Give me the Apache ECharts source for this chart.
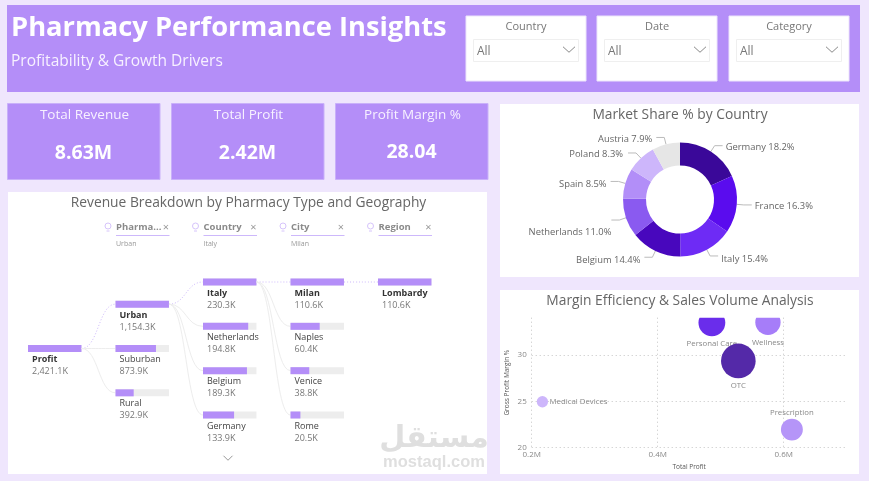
<!DOCTYPE html>
<html>
<head>
<meta charset="utf-8">
<title>Pharmacy Performance Insights</title>
<script src="https://cdn.jsdelivr.net/npm/echarts@6/dist/echarts.min.js"></script>
<style>
  html, body { margin: 0; padding: 0; background: #EFE6FD; }
  #miGrafico { width: 869px; height: 481px; }
</style>
</head>
<body>
<div id="miGrafico"></div>
<script>
// filters and KPI cards
var filterLabels = ['Country', 'Date', 'Category'];
var kpiLabels = ['Total Revenue', 'Total Profit', 'Profit Margin %'];
var kpiValues = ['8.63M', '2.42M', '28.04'];

// decomposition tree (values in K)
var rootNames = ['Profit'];
var rootValues = [2421.1];
var typeNames = ['Urban', 'Suburban', 'Rural'];
var typeValues = [1154.3, 873.9, 392.9];
var countryNames = ['Italy', 'Netherlands', 'Belgium', 'Germany'];
var countryValues = [230.3, 194.8, 189.3, 133.9];
var cityNames = ['Milan', 'Naples', 'Venice', 'Rome'];
var cityValues = [110.6, 60.4, 38.8, 20.5];
var regionNames = ['Lombardy'];
var regionValues = [110.6];
var treeHeaders = ['Pharma...', 'Country', 'City', 'Region'];
var treeSelected = ['Urban', 'Italy', 'Milan', ''];

// market share donut
var shareCountries = ['Germany', 'France', 'Italy', 'Belgium', 'Netherlands', 'Spain', 'Poland', 'Austria'];
var shareValues = [18.2, 16.3, 15.4, 14.4, 11.0, 8.5, 8.3, 7.9];

// bubble chart
var bubbleNames = ['Personal Care', 'Wellness', 'OTC', 'Medical Devices', 'Prescription'];
var bubbleProfit = [0.486, 0.575, 0.528, 0.217, 0.613];
var bubbleMargin = [33.45, 33.5, 29.35, 24.95, 21.95];
var bubbleSales = [1.8, 1.6, 3.0, 0.32, 1.2];

var PURPLE = '#B48EF8';
var shareColors = ['#3A0899', '#5A0CEE', '#6E2BF5', '#4807BD', '#8A5AF0', '#B28EF8', '#CDB6FB', '#E6E6E6'];
var shareLabelShift = [[-2, 2], [-2, 1], [-2, 3], [1, 3], [5, 12], [1, 3], [0, 1], [1, 2]];
var bubbleColors = ['#6A2DEB', '#A67DF9', '#5429A8', '#CDB6FB', '#B595F8'];
var bubbleLabelPos = ['bottom', 'bottom', 'bottom', 'right', 'top'];
var FONT = '"Open Sans", sans-serif';

// layout of the tree: half-row slot of each level, 0 is the top row
var treeLevels = [
  { names: rootNames, values: rootValues, slots: [3] },
  { names: typeNames, values: typeValues, slots: [1, 3, 5] },
  { names: countryNames, values: countryValues, slots: [0, 2, 4, 6] },
  { names: cityNames, values: cityValues, slots: [0, 2, 4, 6] },
  { names: regionNames, values: regionValues, slots: [0] }
];
var COL_W = 0.611; // bar width, in columns

var treeRows = [];
treeLevels.forEach(function (lvl, col) {
  var maxV = Math.max.apply(null, lvl.values);
  lvl.names.forEach(function (name, i) {
    treeRows.push({
      value: [col, lvl.slots[i], lvl.values[i] / maxV],
      name: name,
      label: lvl.values[i].toLocaleString('en-US', { minimumFractionDigits: 1 }) + 'K',
      first: i === 0,
      parentSlot: col > 0 ? treeLevels[col - 1].slots[0] : null
    });
  });
});

function renderTreeNode(params, api) {
  var row = treeRows[params.dataIndex];
  var col = api.value(0), slot = api.value(1), share = api.value(2);
  var p = api.coord([col, slot]);
  var w = api.size([COL_W, 0])[0];
  var h = 7;
  var kids = [];
  if (row.parentSlot !== null) {
    var from = api.coord([col - 1, row.parentSlot]);
    var x1 = from[0] + w, mid = (x1 + p[0]) / 2;
    kids.push({
      type: 'bezierCurve',
      shape: { x1: x1, y1: from[1], cpx1: mid, cpy1: from[1], cpx2: mid, cpy2: p[1], x2: p[0], y2: p[1] },
      style: row.first
        ? { stroke: '#CDB8FB', lineWidth: 1, lineDash: [1, 2], fill: null }
        : { stroke: '#EDEDED', lineWidth: 1, fill: null }
    });
  }
  kids.push({ type: 'rect', shape: { x: p[0], y: p[1] - h / 2, width: w, height: h }, style: { fill: '#EDEDED' } });
  kids.push({ type: 'rect', shape: { x: p[0], y: p[1] - h / 2, width: w * share, height: h }, style: { fill: PURPLE } });
  kids.push({
    type: 'text', x: p[0] + 4, y: p[1] + 11,
    style: { text: row.name, fill: row.first ? '#333' : '#444', font: (row.first ? 'bold ' : '') + '9px ' + FONT, verticalAlign: 'middle' }
  });
  kids.push({
    type: 'text', x: p[0] + 4, y: p[1] + 23,
    style: { text: row.label, fill: '#777', font: '9px ' + FONT, verticalAlign: 'middle' }
  });
  return { type: 'group', children: kids };
}

// bubbles are cut off at the plot area, as in the report
function bubbleRenderer(i) {
  return function (params, api) {
    var c = api.coord([api.value(0), api.value(1)]);
    var r = Math.sqrt(api.value(2)) * 10;
    var sys = params.coordSys;
    var pos = bubbleLabelPos[i];
    var tx = c[0], ty = c[1], align = 'center';
    if (pos === 'bottom') { ty = c[1] + r + 7.5; }
    if (pos === 'top') { ty = c[1] - r - 5.5; }
    if (pos === 'right') { tx = c[0] + r + 1.5; align = 'left'; }
    return {
      type: 'group',
      children: [
        {
          type: 'circle',
          shape: { cx: c[0], cy: c[1], r: r },
          style: { fill: bubbleColors[i] },
          clipPath: { type: 'rect', shape: { x: sys.x, y: sys.y, width: sys.width, height: sys.height } }
        },
        {
          type: 'text', x: tx, y: ty,
          style: { text: bubbleNames[i], fill: '#888', font: '7.8px ' + FONT, align: align, verticalAlign: 'middle' }
        }
      ]
    };
  };
}

// panels and static bits
var shapes = [];
function box(x, y, w, h, fill, stroke) {
  shapes.push({ type: 'rect', shape: { x: x, y: y, width: w, height: h }, style: { fill: fill, stroke: stroke || null, lineWidth: 1 } });
}
function label(x, y, text, font, fill, align) {
  shapes.push({ type: 'text', x: x, y: y, style: { text: text, font: font + ' ' + FONT, fill: fill, align: align || 'left', verticalAlign: 'middle' } });
}
function chevron(x, y, w, h, color) {
  shapes.push({ type: 'polyline', shape: { points: [[x - w / 2, y - h / 2], [x, y + h / 2], [x + w / 2, y - h / 2]] }, style: { stroke: color, fill: null, lineWidth: 1 } });
}

box(7, 5, 853, 87, PURPLE);
label(11, 28.5, 'Pharmacy Performance Insights', 'bold 27.3px', '#fff');
label(11, 61.5, 'Profitability & Growth Drivers', '15.5px', '#F7F1FF');

[466, 597, 729].forEach(function (x, i) {
  box(x, 16, 120, 65, '#fff', '#EDE5FB');
  label(x + 60, 26.5, filterLabels[i], '11px', '#777', 'center');
  box(x + 7.5, 39.5, 105, 22, '#fff', '#EFEFEF');
  label(x + 11, 52, 'All', '12px', '#777');
  chevron(x + 103, 49.5, 12, 5.5, '#888');
});

[7.5, 171.5, 335.5].forEach(function (x, i) {
  box(x, 103.5, 152.5, 76, PURPLE, '#C9B0FA');
  label(x + 77, 115, kpiLabels[i], '13.5px', '#F7F1FF', 'center');
  label(x + 76, i === 2 ? 152 : 153.5, kpiValues[i], 'bold 19.5px', '#fff', 'center');
});

box(8, 192, 479, 282, '#fff');
box(500, 104, 359, 173, '#fff');
box(500, 290, 359, 184, '#fff');

treeHeaders.forEach(function (name, i) {
  var x = 116 + i * 87.5;
  shapes.push({ type: 'circle', shape: { cx: x - 8, cy: 226, r: 3 }, style: { fill: null, stroke: '#D6C4FB', lineWidth: 1 } });
  shapes.push({ type: 'line', shape: { x1: x - 9.5, y1: 231, x2: x - 6.5, y2: 231 }, style: { stroke: '#D6C4FB', lineWidth: 1 } });
  label(x, 227.5, name, 'bold 9.5px', '#8A8A8A');
  label(x + 50, 228, '×', '11px', '#999', 'center');
  shapes.push({ type: 'line', shape: { x1: x, y1: 235.5, x2: x + 53.5, y2: 235.5 }, style: { stroke: '#CDB8FB', lineWidth: 1 } });
  label(x, 243.5, treeSelected[i], '7px', '#999');
});
chevron(228, 458, 9, 4.5, '#999');

// watermark
shapes.push({ type: 'text', x: 434, y: 439, z: 10, style: { text: 'مستقل', font: 'bold 30px "DejaVu Sans"', fill: '#DFDFDF', align: 'center', verticalAlign: 'middle' } });
shapes.push({ type: 'text', x: 434, y: 462, z: 10, style: { text: 'mostaql.com', font: 'bold 16.5px "Liberation Sans"', fill: '#DFDFDF', align: 'center', verticalAlign: 'middle' } });

// one series per bubble so the later ones can cover the earlier labels
var bubbleSeries = bubbleNames.map(function (name, i) {
  return {
    type: 'custom',
    name: name,
    xAxisIndex: 1,
    yAxisIndex: 1,
    z: 3 + i,
    data: [[bubbleProfit[i], bubbleMargin[i], bubbleSales[i]]],
    renderItem: bubbleRenderer(i)
  };
});

var titleStyle = { fontSize: 13.8, fontWeight: 'normal', color: '#666', fontFamily: FONT };
var gridDots = { type: [1, 3], color: '#C4C4C4' };

var myChart = echarts.init(document.getElementById('miGrafico'));

var option = {
  backgroundColor: '#EFE6FD',
  animation: false,
  textStyle: { fontFamily: FONT },
  title: [
    { text: 'Revenue Breakdown by Pharmacy Type and Geography', left: 248.5, top: 196, padding: 0, textAlign: 'center', textStyle: titleStyle },
    { text: 'Market Share % by Country', left: 680, top: 108, padding: 0, textAlign: 'center', textStyle: titleStyle },
    { text: 'Margin Efficiency & Sales Volume Analysis', left: 680, top: 294, padding: 0, textAlign: 'center', textStyle: titleStyle }
  ],
  graphic: { elements: shapes },
  grid: [
    { left: 28, top: 282, width: 437.5, height: 133 },
    { left: 531.7, top: 317.7, width: 315, height: 130 }
  ],
  xAxis: [
    { gridIndex: 0, type: 'value', min: 0, max: 5, show: false },
    {
      gridIndex: 1, type: 'value', min: 0.2, max: 0.7, interval: 0.2,
      name: 'Total Profit', nameLocation: 'middle', nameGap: 16,
      nameTextStyle: { fontSize: 6.5, color: '#555', fontFamily: FONT },
      axisLine: { show: false }, axisTick: { show: false },
      axisLabel: { fontSize: 8, color: '#888', margin: 3, showMaxLabel: false, formatter: function (v) { return v.toFixed(1) + 'M'; } },
      splitLine: { show: true, showMaxLine: false, lineStyle: gridDots }
    }
  ],
  yAxis: [
    { gridIndex: 0, type: 'value', min: 0, max: 6, inverse: true, show: false },
    {
      gridIndex: 1, type: 'value', min: 20, max: 34, interval: 5,
      name: 'Gross Profit Margin %', nameLocation: 'middle', nameGap: 21,
      nameTextStyle: { fontSize: 6.5, color: '#555', fontFamily: FONT },
      axisLine: { show: false }, axisTick: { show: false },
      axisLabel: { fontSize: 8, color: '#888', margin: 5, showMaxLabel: false },
      splitLine: { show: true, showMaxLine: false, lineStyle: gridDots }
    }
  ],
  series: [
    {
      type: 'custom',
      xAxisIndex: 0,
      yAxisIndex: 0,
      renderItem: renderTreeNode,
      data: treeRows.map(function (r) { return r.value; })
    },
    {
      type: 'pie',
      center: [680, 199.5],
      radius: [34, 57],
      startAngle: 90,
      data: shareCountries.map(function (c, i) {
        return { name: c, value: shareValues[i], itemStyle: { color: shareColors[i] } };
      }),
      label: {
        color: '#666', fontSize: 9.4, fontFamily: FONT,
        formatter: function (p) { return p.name + ' ' + p.value.toFixed(1) + '%'; }
      },
      labelLine: { length: 7, length2: 8, lineStyle: { color: '#BBB', width: 1 } },
      labelLayout: function (p) {
        var s = shareLabelShift[p.dataIndex];
        return { dx: s[0], dy: s[1] };
      }
    }
  ].concat(bubbleSeries)
};

myChart.setOption(option);
</script>
</body>
</html>
